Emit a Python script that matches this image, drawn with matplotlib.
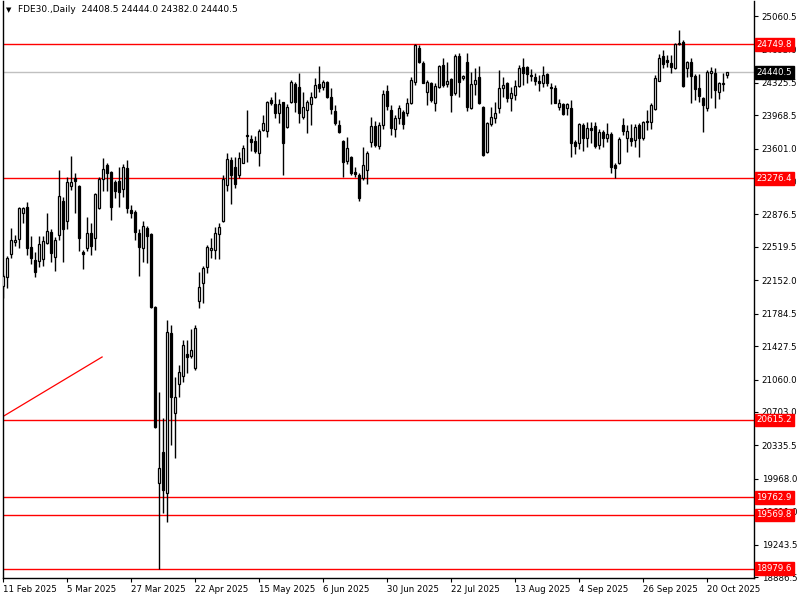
import numpy as np
import matplotlib
matplotlib.use("Agg")
import matplotlib.pyplot as plt
import matplotlib.transforms as mtransforms

# daily OHLC, 11 Feb 2025 .. 27 Oct 2025
opens = [
    22089, 22188, 22441, 22573, 22606, 22893, 22959, 22518, 22375, 22364,
    22386, 22562, 22683, 22408, 22650, 23025, 22805, 23190, 23278, 23190,
    22463, 22507, 22672, 22617, 22948, 23267, 23421, 23344, 23234, 23245,
    23157, 23388, 22926, 22904, 22672, 22507, 22728, 22661, 21858, 19921,
    20262, 19811, 21572, 20692, 21011, 21099, 21341, 21319, 21187, 21924,
    22122, 22298, 22485, 22485, 22661, 22805, 23201, 23476, 23399, 23311,
    23443, 23751, 23707, 23685, 23553, 23806, 23795, 24136, 24092, 23993,
    24114, 23839, 24114, 24312, 24279, 23949, 24026, 24092, 24169, 24312,
    24279, 24334, 24169, 24015, 23861, 23685, 23465, 23509, 23344, 23311,
    23278, 23366, 23674, 23850, 23630, 23861, 24235, 24026, 23817, 23938,
    24004, 23993, 24103, 24334, 24708, 24543, 24224, 24323, 24103, 24279,
    24521, 24312, 24367, 24213, 24620, 24378, 24554, 24048, 24312, 24389,
    24059, 23564, 23872, 23938, 24048, 24268, 24323, 24158, 24191, 24290,
    24499, 24499, 24411, 24389, 24345, 24323, 24422, 24279, 24268, 24059,
    24092, 24048, 24048, 23674, 23663, 23861, 23718, 23828, 23850, 23641,
    23784, 23718, 23762, 23421, 23443, 23861, 23718, 23718, 23696, 23861,
    23718, 23905, 23894, 24037, 24345, 24620, 24576, 24543, 24488, 24752,
    24774, 24488, 24554, 24400, 24268, 24158, 24048, 24433, 24433, 24224,
    24312, 24408.5,
]
highs = [
    22221, 22419, 22728, 22650, 22959, 22959, 23014, 22639, 22463, 22639,
    22639, 22893, 22717, 22628, 23366, 23069, 23289, 23520, 23333, 23201,
    22485, 22849, 22783, 23113, 23289, 23498, 23443, 23355, 23256, 23399,
    23432, 23476, 22981, 22926, 22717, 22805, 22750, 22672, 21869, 20923,
    20637, 21715, 21660, 21088, 21220, 21495, 21495, 21616, 21660, 22243,
    22309, 22540, 22617, 22739, 22783, 23311, 23553, 23509, 23509, 23564,
    23641, 24026, 23751, 23740, 23817, 23971, 24125, 24169, 24224, 24147,
    24114, 24092, 24356, 24334, 24433, 24224, 24136, 24224, 24378, 24510,
    24356, 24345, 24268, 24081, 23916, 23696, 23729, 23520, 23399, 23333,
    23619, 23575, 23949, 23905, 23894, 24246, 24301, 24081, 23971, 24081,
    24026, 24158, 24389, 24749.8, 24741, 24565, 24356, 24334, 24323, 24521,
    24598, 24554, 24378, 24642, 24653, 24411, 24653, 24444, 24488, 24510,
    24070, 23894, 24059, 24114, 24466, 24389, 24334, 24279, 24356, 24521,
    24598, 24510, 24477, 24433, 24411, 24510, 24433, 24323, 24301, 24147,
    24103, 24103, 24136, 23696, 23883, 23883, 23894, 23894, 23894, 23817,
    23806, 23883, 23784, 23443, 23729, 23938, 23861, 23872, 23872, 23883,
    23905, 24026, 24103, 24411, 24642, 24686, 24631, 24631, 24763, 24906,
    24796, 24565, 24598, 24422, 24422, 24169, 24466, 24499, 24488, 24334,
    24433, 24444.0,
]
lows = [
    21957, 22067, 22397, 22529, 22507, 22783, 22430, 22331, 22188, 22298,
    22309, 22551, 22353, 22254, 22595, 22353, 22717, 23146, 22893, 22474,
    22276, 22474, 22430, 22485, 22937, 23135, 23135, 22816, 23058, 22959,
    23069, 22893, 22838, 22595, 22199, 22353, 22342, 21847, 20527, 18979.6,
    19591, 19492, 20339, 20196, 20868, 21033, 21132, 21297, 21165, 21847,
    21902, 22232, 22397, 22386, 22386, 22794, 23135, 22992, 23168, 23278,
    23443, 23454, 23575, 23553, 23410, 23795, 23729, 24081, 23938, 23883,
    23311, 23828, 24103, 24004, 23883, 23927, 23773, 23861, 24158, 24224,
    24246, 24158, 23982, 23861, 23773, 23289, 23432, 23311, 23289, 23025,
    23256, 23212, 23619, 23619, 23597, 23817, 24026, 23751, 23729, 23872,
    23817, 23960, 24092, 24301, 24543, 24323, 24081, 24114, 24015, 24268,
    24279, 24279, 24004, 24191, 24169, 24356, 24015, 24037, 24191, 24092,
    23520, 23553, 23850, 23883, 23993, 24169, 24114, 24015, 24136, 24279,
    24301, 24323, 24345, 24301, 24235, 24279, 24290, 24092, 24103, 24026,
    23971, 23971, 23509, 23542, 23597, 23575, 23619, 23663, 23608, 23597,
    23619, 23674, 23333, 23276.4, 23432, 23751, 23564, 23630, 23619, 23509,
    23696, 23806, 23817, 24026, 24345, 24488, 24499, 24433, 24477, 24741,
    24279, 24389, 24103, 24136, 24114, 23784, 24015, 24158, 24048, 24147,
    24235, 24382.0,
]
closes = [
    22199, 22397, 22595, 22595, 22948, 22948, 22507, 22397, 22243, 22551,
    22584, 22694, 22452, 22595, 23080, 22717, 23234, 23234, 23245, 22617,
    22441, 22672, 22529, 23102, 23267, 23377, 23333, 22959, 23135, 23124,
    23399, 22948, 22893, 22683, 22518, 22750, 22639, 21858, 20538, 20086,
    19844, 21583, 20868, 20868, 21143, 21440, 21308, 21385, 21627, 22078,
    22287, 22518, 22507, 22672, 22739, 23267, 23487, 23311, 23212, 23498,
    23608, 23740, 23674, 23575, 23795, 23883, 24114, 24103, 23993, 24092,
    23663, 24059, 24334, 24114, 23993, 24059, 24114, 24169, 24301, 24268,
    24334, 24169, 24037, 23883, 23784, 23454, 23608, 23333, 23322, 23058,
    23421, 23553, 23850, 23641, 23861, 24202, 24070, 23828, 23938, 24048,
    23872, 24103, 24356, 24741, 24554, 24323, 24334, 24136, 24290, 24510,
    24301, 24345, 24191, 24620, 24334, 24400, 24059, 24312, 24356, 24103,
    23531, 23883, 23949, 23993, 24268, 24301, 24158, 24213, 24290, 24488,
    24433, 24422, 24400, 24345, 24323, 24411, 24323, 24268, 24103, 24103,
    23982, 24092, 23663, 23630, 23872, 23718, 23828, 23806, 23630, 23784,
    23718, 23762, 23399, 23388, 23707, 23795, 23795, 23685, 23839, 23718,
    23894, 23894, 24081, 24378, 24598, 24532, 24554, 24499, 24752, 24763,
    24290, 24554, 24400, 24257, 24180, 24081, 24444, 24455, 24246, 24323,
    24318, 24440.5,
]

date_labels = ["11 Feb 2025", "5 Mar 2025", "27 Mar 2025", "22 Apr 2025",
               "15 May 2025", "6 Jun 2025", "30 Jun 2025", "22 Jul 2025",
               "13 Aug 2025", "4 Sep 2025", "26 Sep 2025", "20 Oct 2025"]
price_ticks = [25060.5, 24693.0, 24325.5, 23968.5, 23601.0, 23244.0,
               22876.5, 22519.5, 22152.0, 21784.5, 21427.5, 21060.0,
               20703.0, 20335.5, 19968.0, 19611.0, 19243.5, 18886.5]
red_levels = [24749.8, 23276.4, 20615.2, 19762.9, 19569.8, 18979.6]
last_price = 24440.5
trend_x = [-0.2, 24.7]
trend_y = [20650.0, 21308.0]

FONT = "DejaVu Sans"
plt.rcParams["font.family"] = FONT

fig = plt.figure(figsize=(8, 6), dpi=100)
ax = fig.add_axes([2.5 / 800, 22 / 600, 751 / 800, 577 / 600])

n = len(opens)
x = np.arange(n)
o = np.array(opens, dtype=float)
h = np.array(highs, dtype=float)
l = np.array(lows, dtype=float)
c = np.array(closes, dtype=float)
bull = c >= o

ax.vlines(x, l, h, color="black", linewidth=1.0, zorder=2)
body_lo = np.minimum(o, c)
body_h = np.maximum(np.abs(c - o), 8)
ax.bar(x[bull], body_h[bull], bottom=body_lo[bull], width=0.5,
       color="white", edgecolor="black", linewidth=0.9, zorder=3)
ax.bar(x[~bull], body_h[~bull], bottom=body_lo[~bull], width=0.5,
       color="black", edgecolor="black", linewidth=0.9, zorder=3)

# levels
for lv in red_levels:
    ax.axhline(lv, color="#ff0000", linewidth=1.0, zorder=1)
ax.axhline(last_price, color="#c0c0c0", linewidth=1.0, zorder=1)
ax.plot(trend_x, trend_y, color="#ff0000", linewidth=0.9, zorder=1)

ax.set_xlim(-0.2, 187.55)
ax.set_ylim(18875.7, 25225.6)

ax.yaxis.tick_right()
ax.set_yticks(price_ticks)
ax.set_yticklabels([f"{v:.1f}" for v in price_ticks])
ax.tick_params(axis="y", direction="out", length=3, width=0.8, pad=3,
               labelsize=6.2, colors="black")
ax.set_xticks(np.arange(0, 16 * len(date_labels), 16))
ax.set_xticklabels(date_labels)
ax.tick_params(axis="x", direction="out", length=3, width=0.8, pad=2,
               labelsize=6.2)
for t in ax.get_xticklabels():
    t.set_horizontalalignment("left")

for s in ["left", "bottom", "right"]:
    ax.spines[s].set_linewidth(1.0)
ax.spines["top"].set_visible(False)

trans = mtransforms.blended_transform_factory(ax.transAxes, ax.transData)
for lv in red_levels:
    ax.text(1.004, lv, f"{lv:.1f}", transform=trans, ha="left", va="center",
            fontsize=6.2, color="white", zorder=10, clip_on=False,
            bbox=dict(boxstyle="square,pad=0.22", facecolor="#ff0000",
                      edgecolor="#ff0000"))
ax.text(1.004, last_price, f"{last_price:.1f}", transform=trans, ha="left",
        va="center", fontsize=6.2, color="white", zorder=10, clip_on=False,
        bbox=dict(boxstyle="square,pad=0.22", facecolor="black",
                  edgecolor="black"))

fig.text(6 / 800, 1 - 10 / 600, "\u25bc", fontsize=5, va="center", ha="left")
fig.text(18 / 800, 1 - 10 / 600,
         f"FDE30.,Daily  {opens[-1]:.1f} {highs[-1]:.1f} {lows[-1]:.1f} {closes[-1]:.1f}",
         fontsize=6.5, va="center", ha="left")

fig.savefig("out.png", dpi=100, facecolor="white")
